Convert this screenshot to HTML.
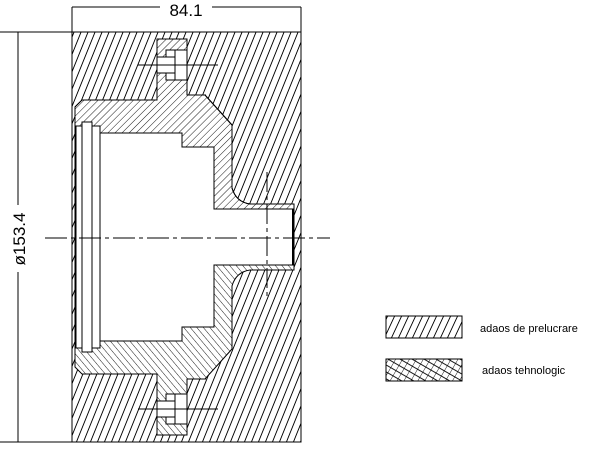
<!DOCTYPE html>
<html><head><style>html,body{margin:0;padding:0;background:#fff}svg{display:block}</style></head>
<body>
<svg width="613" height="450" viewBox="0 0 613 450" xmlns="http://www.w3.org/2000/svg">
<defs>
<pattern id="hb" patternUnits="userSpaceOnUse" width="7" height="16" patternTransform="skewX(-22)">
<line x1="3" y1="0" x2="3" y2="16" stroke="#000" stroke-width="1"/></pattern>
<pattern id="hp" patternUnits="userSpaceOnUse" width="5" height="5" patternTransform="rotate(45)">
<line x1="0" y1="0" x2="0" y2="5" stroke="#000" stroke-width="0.9"/></pattern>
<pattern id="hq" patternUnits="userSpaceOnUse" width="5" height="5" patternTransform="rotate(-40)">
<line x1="0" y1="0" x2="0" y2="5" stroke="#000" stroke-width="0.9"/></pattern>
<pattern id="hl" patternUnits="userSpaceOnUse" width="7" height="16" patternTransform="skewX(-25)">
<line x1="3" y1="0" x2="3" y2="16" stroke="#000" stroke-width="1"/></pattern>
<pattern id="hx" patternUnits="userSpaceOnUse" width="6" height="6" patternTransform="rotate(30)">
<line x1="0" y1="0" x2="0" y2="6" stroke="#000" stroke-width="0.9"/><line x1="0" y1="3" x2="6" y2="3" stroke="#000" stroke-width="0.9"/></pattern>
<clipPath id="top"><rect x="0" y="0" width="613" height="237"/></clipPath>
<clipPath id="bot"><rect x="0" y="237" width="613" height="213"/></clipPath>
</defs>
<g stroke="#000" stroke-width="1" fill="none">
<!-- dimensions -->
<line x1="72" y1="7" x2="160" y2="7"/><line x1="212" y1="7" x2="301" y2="7"/>
<line x1="72" y1="7" x2="72" y2="32"/><line x1="301" y1="7" x2="301" y2="32"/>
<line x1="18" y1="32" x2="18" y2="205"/><line x1="18" y1="272" x2="18" y2="442"/>
<line x1="0" y1="32" x2="72" y2="32"/><line x1="0" y1="442" x2="72" y2="442"/>
<!-- body -->
<rect x="72" y="32" width="229" height="410" fill="url(#hb)"/>
<!-- piece -->
<path d="M82,100 L157,100 L157,39 L187,39 L187,95 L205,95 L232,125 L232,188 Q236,202 250,204 L294,204 L294,270 L250,270 Q236,272 232,286 L232,349 L205,379 L187,379 L187,435 L157,435 L157,374 L82,374 L75,367 L75,107 Z" fill="#fff"/>
<path clip-path="url(#top)" d="M82,100 L157,100 L157,39 L187,39 L187,95 L205,95 L232,125 L232,188 Q236,202 250,204 L294,204 L294,270 L250,270 Q236,272 232,286 L232,349 L205,379 L187,379 L187,435 L157,435 L157,374 L82,374 L75,367 L75,107 Z" fill="url(#hp)"/>
<path clip-path="url(#bot)" d="M82,100 L157,100 L157,39 L187,39 L187,95 L205,95 L232,125 L232,188 Q236,202 250,204 L294,204 L294,270 L250,270 Q236,272 232,286 L232,349 L205,379 L187,379 L187,435 L157,435 L157,374 L82,374 L75,367 L75,107 Z" fill="url(#hq)" stroke="none"/>
<!-- cavity -->
<path d="M100,133 L182,133 L182,147 L214,147 L214,209 L293,209 L293,265 L214,265 L214,327 L182,327 L182,341 L100,341 Z" fill="#fff"/>
<line x1="293" y1="209" x2="293" y2="265" stroke-width="2"/>
<!-- rings -->
<rect x="76" y="126" width="24" height="222" fill="#fff"/>
<rect x="82" y="122" width="10" height="230" fill="#fff"/>
<line x1="76" y1="126" x2="76" y2="348"/>
<!-- bolts top -->
<rect x="166" y="50" width="21" height="30" fill="#fff"/>
<rect x="157" y="57" width="18" height="16" fill="#fff"/>
<line x1="138" y1="65" x2="218" y2="65"/>
<line x1="175" y1="50" x2="175" y2="80"/>
<rect x="166" y="394" width="21" height="30" fill="#fff"/>
<rect x="157" y="401" width="18" height="16" fill="#fff"/>
<line x1="138" y1="409" x2="218" y2="409"/>
<line x1="175" y1="394" x2="175" y2="424"/>
<line x1="187" y1="95" x2="206" y2="95"/>
<line x1="187" y1="379" x2="206" y2="379"/>
<!-- center lines -->
<line x1="45" y1="238" x2="330" y2="238" stroke-dasharray="22,4,4,4"/>
<line x1="267" y1="172" x2="267" y2="300" stroke-dasharray="20,4,4,4"/>
<!-- legend -->
<rect x="386" y="316" width="76" height="22" fill="url(#hl)"/>
<rect x="386" y="359" width="76" height="22" fill="url(#hx)"/>
</g>
<g font-family="Liberation Sans, sans-serif" fill="#000">
<text x="186" y="16" font-size="17" text-anchor="middle">84.1</text>
<text transform="translate(25,239) rotate(-90)" font-size="17" text-anchor="middle">ø153.4</text>
<text x="480" y="332" font-size="11">adaos de prelucrare</text>
<text x="482" y="374" font-size="11">adaos tehnologic</text>
</g>
</svg>
</body></html>
